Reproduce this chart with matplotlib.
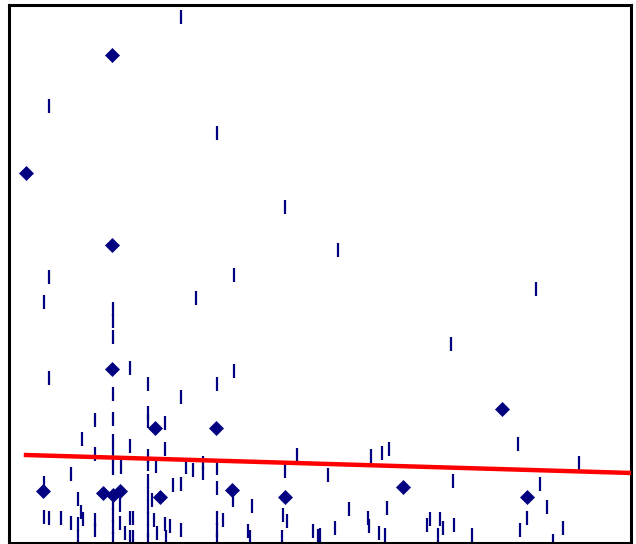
import matplotlib
matplotlib.use("Agg")
import matplotlib.pyplot as plt
import numpy as np

# Series 1: vertical-tick points
tick_x = [172, 40, 208, 276, 329, 40, 225, 527, 35, 187, 104, 104, 104, 442, 121, 225, 40, 139, 208, 172,
          104, 86, 104, 139, 139, 156, 73, 104, 121, 156, 86, 104, 139, 139, 147, 104, 112, 62, 35, 177,
          184, 194, 194, 208, 164, 172, 208, 288, 276, 224,
          35, 40, 52, 62, 69, 69, 69, 72, 74, 86, 86, 104, 104, 104, 104, 111, 111, 116, 121, 121,
          124, 124, 139, 139, 139, 139, 139, 139, 143, 145, 148, 156, 157, 161, 172, 208, 208, 208, 214, 239,
          241, 243, 274, 273, 278, 304, 309,
          311, 319, 326, 340, 359, 360, 362, 370, 373, 376, 378, 380, 418, 421, 429, 431, 434, 444, 445, 463,
          509, 511, 518, 531, 538, 544, 554, 570]
tick_y = [526, 437, 410, 336, 293, 266, 268, 254, 241, 245, 234, 222, 206, 199, 175, 172, 165, 159, 159, 146,
          149, 123, 124, 130, 122, 120, 104, 102, 97, 94, 89, 88, 87, 79, 77, 75, 76, 69, 60, 76,
          73, 80, 70, 75, 58, 59, 55, 88, 72, 43,
          26, 25, 25, 20, 44, 19, 6, 31, 24, 23, 13, 40, 28, 16, 4, 38, 20, 10, 25, 6,
          25, 6, 62, 49, 36, 24, 12, 3, 43, 23, 10, 19, 6, 17, 13, 25, 13, 3, 23, 12,
          6, 37, 28, 6, 22, 12, 7,
          8, 68, 15, 34, 25, 17, 87, 10, 90, 8, 35, 94, 18, 24, 8, 24, 15, 62, 18, 8,
          99, 13, 25, 59, 36, 2, 15, 80]

# Series 2: diamond points
dia_x = [103, 17, 103, 103, 146, 207, 493, 34, 94, 104, 111, 151, 223, 276, 394, 518]
dia_y = [488, 370, 298, 174, 115, 115, 134, 52, 50, 48, 52, 46, 53, 46, 56, 46]

# Fitted line
fit_intercept = 88.5
fit_slope = -0.0297
fit_x = [17, 630]

fig = plt.figure(figsize=(6.36, 5.44), dpi=100)
ax = fig.add_axes([9 / 636, 1 / 544, 622 / 636, 538 / 544])
ax.set_xlim(0, 622)
ax.set_ylim(0, 538)

ax.plot(tick_x, tick_y, linestyle="none", marker="|", markersize=10,
        markeredgewidth=1.6, color="#000080", zorder=2)
ax.plot(dia_x, dia_y, linestyle="none", marker="D", markersize=7.2,
        color="#000080", markeredgewidth=0.5, zorder=3)
fx = np.array(fit_x, dtype=float)
ax.plot(fx, fit_intercept + fit_slope * fx, color="#FF0000", linewidth=3.2, zorder=4)

ax.set_xticks([])
ax.set_yticks([])
for s in ax.spines.values():
    s.set_linewidth(2.2)
    s.set_color("black")

fig.savefig("out.png", dpi=100)
